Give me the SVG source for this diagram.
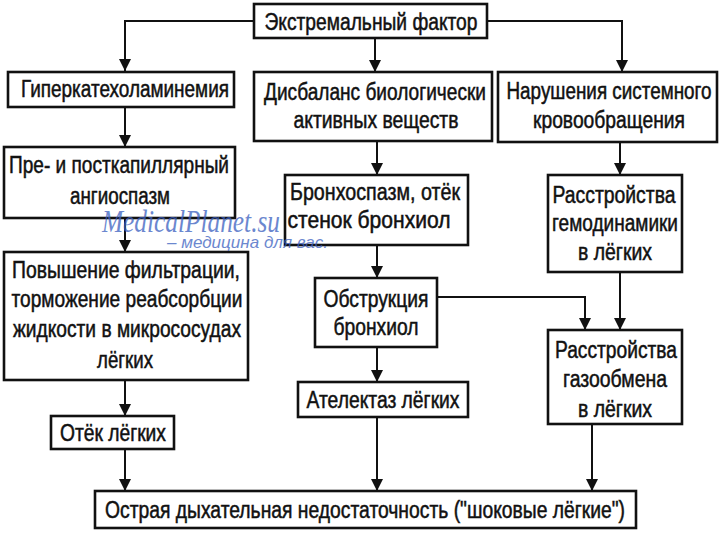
<svg xmlns="http://www.w3.org/2000/svg" width="720" height="540" viewBox="0 0 720 540">
<defs>
<marker id="ah" markerUnits="userSpaceOnUse" markerWidth="12" markerHeight="14" viewBox="0 0 12 14" refX="12" refY="7" orient="auto">
<path d="M0,1 L12,7 L0,13 z" fill="#111"/>
</marker>
<style>
.box{fill:#fff;stroke:#111;stroke-width:2.6}
.t{font-family:"Liberation Sans",Arial,sans-serif;font-size:23px;fill:#111;stroke:#111;stroke-width:0.5;text-anchor:middle}
.c{fill:none;stroke:#111;stroke-width:2}
.wm{font-family:"Liberation Serif","DejaVu Serif",serif;font-style:italic;fill:#3a5fc0;opacity:0.75}
.wm2{font-family:"Liberation Sans",sans-serif;font-style:italic;fill:#3a5fc0;opacity:0.75}
</style>
</defs>
<rect width="720" height="540" fill="#fff"/>
<g id="connectors">
<path class="c" d="M254,21 H125 V71" marker-end="url(#ah)"/>
<path class="c" d="M375,38 V72" marker-end="url(#ah)"/>
<path class="c" d="M487,21 H622 V72" marker-end="url(#ah)"/>
<path class="c" d="M125,107 V147" marker-end="url(#ah)"/>
<path class="c" d="M125,218 V252" marker-end="url(#ah)"/>
<path class="c" d="M125,380 V416" marker-end="url(#ah)"/>
<path class="c" d="M125,449 V491" marker-end="url(#ah)"/>
<path class="c" d="M377,141 V175" marker-end="url(#ah)"/>
<path class="c" d="M377,245 V278" marker-end="url(#ah)"/>
<path class="c" d="M377,347 V382" marker-end="url(#ah)"/>
<path class="c" d="M377,417 V491" marker-end="url(#ah)"/>
<path class="c" d="M437,297 H585 V330" marker-end="url(#ah)"/>
<path class="c" d="M620,142 V175" marker-end="url(#ah)"/>
<path class="c" d="M620,272 V330" marker-end="url(#ah)"/>
<path class="c" d="M592,424 V491" marker-end="url(#ah)"/>
</g>
<g id="n-extreme"><rect class="box" x="254" y="4" width="233" height="34"/>
<text class="t" x="371" y="30" textLength="213" lengthAdjust="spacingAndGlyphs">Экстремальный фактор</text></g>
<g id="n-hyper"><rect class="box" x="8" y="72" width="226" height="35"/>
<text class="t" x="125" y="97" textLength="208" lengthAdjust="spacingAndGlyphs">Гиперкатехоламинемия</text></g>
<g id="n-disbalance"><rect class="box" x="254" y="72" width="238" height="69"/>
<text class="t" x="375" y="100" textLength="222" lengthAdjust="spacingAndGlyphs">Дисбаланс биологически</text>
<text class="t" x="376" y="128" textLength="165" lengthAdjust="spacingAndGlyphs">активных веществ</text></g>
<g id="n-circ"><rect class="box" x="498" y="72" width="219" height="70"/>
<text class="t" x="609" y="99" textLength="205" lengthAdjust="spacingAndGlyphs">Нарушения системного</text>
<text class="t" x="609" y="128" textLength="152" lengthAdjust="spacingAndGlyphs">кровообращения</text></g>
<g id="n-angio"><rect class="box" x="4" y="147" width="231" height="71"/>
<text class="t" x="119" y="173" textLength="220" lengthAdjust="spacingAndGlyphs">Пре- и посткапиллярный</text>
<text class="t" x="120" y="204" textLength="100" lengthAdjust="spacingAndGlyphs">ангиоспазм</text></g>
<g id="n-broncho"><rect class="box" x="285" y="175" width="183" height="70"/>
<text class="t" x="375" y="200" textLength="170" lengthAdjust="spacingAndGlyphs">Бронхоспазм, отёк</text>
<text class="t" x="369" y="228" textLength="163" lengthAdjust="spacingAndGlyphs">стенок бронхиол</text></g>
<g id="n-hemo"><rect class="box" x="548" y="175" width="134" height="97"/>
<text class="t" x="614" y="203" textLength="123" lengthAdjust="spacingAndGlyphs">Расстройства</text>
<text class="t" x="615" y="231" textLength="126" lengthAdjust="spacingAndGlyphs">гемодинамики</text>
<text class="t" x="615" y="260" textLength="74" lengthAdjust="spacingAndGlyphs">в лёгких</text></g>
<g id="n-filtr"><rect class="box" x="4" y="252" width="244" height="128"/>
<text class="t" x="126" y="278" textLength="228" lengthAdjust="spacingAndGlyphs">Повышение фильтрации,</text>
<text class="t" x="127" y="307" textLength="231" lengthAdjust="spacingAndGlyphs">торможение реабсорбции</text>
<text class="t" x="127" y="337" textLength="228" lengthAdjust="spacingAndGlyphs">жидкости в микрососудах</text>
<text class="t" x="125" y="368" textLength="56" lengthAdjust="spacingAndGlyphs">лёгких</text></g>
<g id="n-obstr"><rect class="box" x="315" y="278" width="122" height="69"/>
<text class="t" x="376" y="307" textLength="105" lengthAdjust="spacingAndGlyphs">Обструкция</text>
<text class="t" x="376" y="335" textLength="85" lengthAdjust="spacingAndGlyphs">бронхиол</text></g>
<g id="n-gas"><rect class="box" x="548" y="330" width="134" height="94"/>
<text class="t" x="616" y="358" textLength="122" lengthAdjust="spacingAndGlyphs">Расстройства</text>
<text class="t" x="615" y="387" textLength="104" lengthAdjust="spacingAndGlyphs">газообмена</text>
<text class="t" x="615" y="417" textLength="74" lengthAdjust="spacingAndGlyphs">в лёгких</text></g>
<g id="n-atel"><rect class="box" x="298" y="382" width="170" height="35"/>
<text class="t" x="383" y="408" textLength="153" lengthAdjust="spacingAndGlyphs">Ателектаз лёгких</text></g>
<g id="n-edema"><rect class="box" x="51" y="416" width="123" height="33"/>
<text class="t" x="113" y="441" textLength="106" lengthAdjust="spacingAndGlyphs">Отёк лёгких</text></g>
<g id="n-ards"><rect class="box" x="95" y="491" width="541" height="37"/>
<text class="t" x="365" y="518" textLength="520" lengthAdjust="spacingAndGlyphs">Острая дыхательная недостаточность ("шоковые лёгкие")</text></g>
<g id="watermark">
<text class="wm" x="102" y="232" font-size="32" textLength="178" lengthAdjust="spacingAndGlyphs">MedicalPlanet.su</text>
<text class="wm2" x="167" y="248" font-size="17" textLength="161" lengthAdjust="spacingAndGlyphs">– медицина для вас.</text>
</g>
</svg>
